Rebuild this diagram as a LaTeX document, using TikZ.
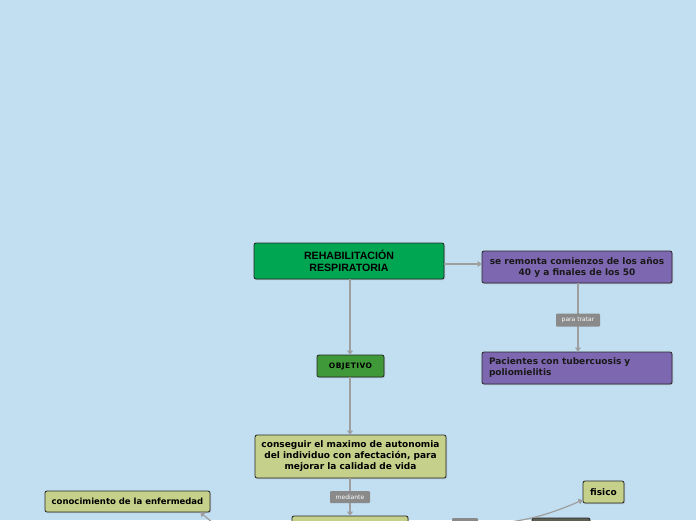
\documentclass[tikz,border=0pt]{standalone}
\usepackage{fontspec}
\setmainfont{DejaVu Sans}
\newfontfamily\arialfont{Liberation Sans}
\newfontfamily\espaciada[LetterSpace=6]{DejaVu Sans}
\usetikzlibrary{shadows,arrows.meta}

% Colores
\definecolor{fondo}{RGB}{194,222,241}
\definecolor{verdeA}{RGB}{0,166,81}
\definecolor{verdeB}{RGB}{64,153,56}
\definecolor{morado}{RGB}{125,103,176}
\definecolor{oliva}{RGB}{197,209,138}
\definecolor{enlace}{RGB}{158,158,158}
\definecolor{etiqueta}{RGB}{138,138,138}
\definecolor{oscuro}{RGB}{92,96,82}

\begin{document}
\begin{tikzpicture}[x=1pt,y=1pt,
  caja/.style={draw=black!85,line width=0.8pt,rounded corners=2pt,align=center,
    inner sep=2pt,font=\bfseries\fontsize{9}{11}\selectfont,
    drop shadow={shadow xshift=1pt,shadow yshift=-1pt,opacity=0.35}},
  etiq/.style={fill=etiqueta,text=white,rounded corners=1pt,inner sep=1pt,
    font=\fontsize{6}{7}\selectfont},
  flecha/.style={draw=enlace,line width=1.2pt,-{Triangle[width=6pt,length=4pt]}}]

% Fondo y limites
\fill[fondo] (0,0) rectangle (696,-520);
\useasboundingbox (0,0) rectangle (696,-520);
\clip (0,0) rectangle (696,-520);

% Nodo principal
\node[caja,fill=verdeA,minimum width=190pt,minimum height=36pt,
  font=\arialfont\bfseries\fontsize{10.6}{11.5}\selectfont] (rehab) at (349,-261)
  {REHABILITACIÓN\\RESPIRATORIA};

% Rama de la historia
\node[caja,fill=morado,text=black!90,minimum width=190pt,minimum height=32pt] (remonta) at (577,-267)
  {se remonta comienzos de los años\\40 y a finales de los 50};
\node[caja,fill=morado,text=black!90,minimum width=190pt,minimum height=32pt,
  align=left,text width=176pt] (pacientes) at (577,-368)
  {Pacientes con tubercuosis y\\poliomielitis};

% Rama del objetivo
\node[caja,fill=verdeB,minimum width=67pt,minimum height=22pt,
  font=\espaciada\bfseries\fontsize{7.5}{8}\selectfont] (objetivo) at (350.5,-366) {OBJETIVO};
\node[caja,fill=oliva,minimum width=191pt,minimum height=43pt] (conseguir) at (350.5,-456.5)
  {conseguir el maximo de autonomia\\del individuo con afectación, para\\mejorar la calidad de vida};

% Nodos inferiores
\node[caja,fill=oliva,minimum width=165pt,minimum height=21pt,
  font=\bfseries\fontsize{8.5}{10}\selectfont] (conocimiento) at (127.5,-501.5)
  {conocimiento de la enfermedad};
\node[caja,fill=oliva,minimum width=41pt,minimum height=22pt] (fisico) at (603.5,-492) {fisico};
\node[caja,fill=oliva,minimum width=116pt,minimum height=28pt] (abajo) at (350,-530) {};
\node[etiq,minimum width=26pt,minimum height=14pt] (etiq2) at (465,-525) {};
\node[caja,fill=oscuro,minimum width=58pt,minimum height=28pt] (oscuro) at (561,-532) {};
\coordinate (desde) at (213,-523);

% Conectores
\draw[flecha] ([yshift=-3pt]rehab.east) -- ([yshift=3pt]remonta.west);
\draw[flecha] (remonta.south -| 578,0) -- node[etiq,pos=0.54,minimum width=44pt,minimum height=13pt] (tratar) {para tratar}
  (pacientes.north -| 578,0);
\draw[flecha] (rehab.south -| 350,0) -- (objetivo.north -| 350,0);
\draw[flecha] (objetivo.south -| 350,0) -- (conseguir.north -| 350,0);
\draw[flecha] (conseguir.south -| 350,0) -- node[etiq,minimum width=40pt,minimum height=12pt] (mediante) {mediante}
  (abajo.north -| 350,0);
\draw[flecha] (desde) -- ([xshift=-10pt]conocimiento.south east);
\draw[flecha] (etiq2.east) to[bend right=10] ([yshift=-8pt]fisico.west);

\end{tikzpicture}
\end{document}
